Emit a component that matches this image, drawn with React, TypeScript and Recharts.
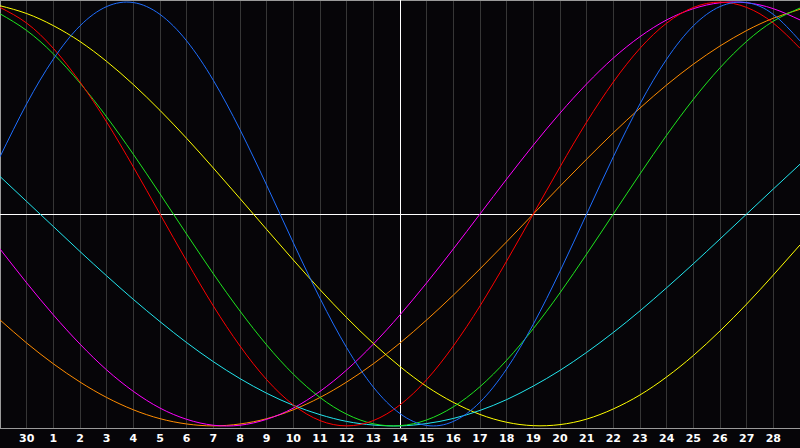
import { LineChart, Line, XAxis, YAxis, CartesianGrid, ReferenceLine } from 'recharts'

// ─── Data ─────────────────────────────────────────────────────────────────────

// grid position of each sample (one per day column)
const DAYS = [0, 1, 2, 3, 4, 5, 6, 7, 8, 9, 10, 11, 12, 13, 14, 15, 16, 17, 18, 19, 20, 21, 22, 23, 24, 25, 26, 27, 28, 29, 30]

const TICKS = [1, 2, 3, 4, 5, 6, 7, 8, 9, 10, 11, 12, 13, 14, 15, 16, 17, 18, 19, 20, 21, 22, 23, 24, 25, 26, 27, 28, 29]
const TICK_LABELS = ['30', '1', '2', '3', '4', '5', '6', '7', '8', '9', '10', '11', '12', '13', '14', '15', '16', '17', '18', '19', '20', '21', '22', '23', '24', '25', '26', '27', '28']

const PHYSICAL = [0.27, 0.52, 0.731, 0.888, 0.979, 0.998, 0.942, 0.817, 0.631, 0.398, 0.136, -0.136, -0.398, -0.631, -0.817, -0.942, -0.998, -0.979, -0.888, -0.731, -0.52, -0.27, 0, 0.27, 0.52, 0.731, 0.888, 0.979, 0.998, 0.942, 0.817]
const EMOTIONAL = [0.975, 0.901, 0.782, 0.623, 0.434, 0.222, 0, -0.222, -0.434, -0.623, -0.782, -0.901, -0.975, -1, -0.975, -0.901, -0.782, -0.623, -0.434, -0.222, 0, 0.222, 0.434, 0.623, 0.782, 0.901, 0.975, 1, 0.975, 0.901, 0.782]
const INTELLECTUAL = [0.945, 0.866, 0.756, 0.618, 0.458, 0.282, 0.095, -0.095, -0.282, -0.458, -0.618, -0.756, -0.866, -0.945, -0.99, -0.999, -0.972, -0.91, -0.815, -0.69, -0.541, -0.372, -0.189, 0, 0.189, 0.372, 0.541, 0.69, 0.815, 0.91, 0.972]
const INTUITIVE = [-0.165, -0.325, -0.476, -0.614, -0.736, -0.837, -0.916, -0.969, -0.997, -0.997, -0.969, -0.916, -0.837, -0.736, -0.614, -0.476, -0.325, -0.165, 0, 0.165, 0.325, 0.476, 0.614, 0.736, 0.837, 0.916, 0.969, 0.997, 0.997, 0.969, 0.916]
const AESTHETIC = [0.983, 0.946, 0.889, 0.814, 0.72, 0.611, 0.489, 0.357, 0.217, 0.073, -0.073, -0.217, -0.357, -0.489, -0.611, -0.72, -0.814, -0.889, -0.946, -0.983, -0.999, -0.994, -0.968, -0.92, -0.854, -0.769, -0.668, -0.552, -0.425, -0.288, -0.146]
const AWARENESS = [-0.5, -0.609, -0.707, -0.793, -0.866, -0.924, -0.966, -0.991, -1, -0.991, -0.966, -0.924, -0.866, -0.793, -0.707, -0.609, -0.5, -0.383, -0.259, -0.131, 0, 0.131, 0.259, 0.383, 0.5, 0.609, 0.707, 0.793, 0.866, 0.924, 0.966]
const SPIRITUAL = [0.177, 0.059, -0.059, -0.177, -0.292, -0.403, -0.508, -0.607, -0.697, -0.777, -0.846, -0.903, -0.947, -0.979, -0.996, -1, -0.989, -0.965, -0.927, -0.876, -0.812, -0.738, -0.653, -0.559, -0.457, -0.348, -0.235, -0.118, 0, 0.118, 0.235]

// ─── Series styling ───────────────────────────────────────────────────────────

const SERIES: { key: string; values: number[]; color: string }[] = [
  { key: 'awareness',    values: AWARENESS,    color: '#ff8c00' },
  { key: 'intuitive',    values: INTUITIVE,    color: '#ff00ff' },
  { key: 'aesthetic',    values: AESTHETIC,    color: '#ffff00' },
  { key: 'spiritual',    values: SPIRITUAL,    color: '#22e6ee' },
  { key: 'intellectual', values: INTELLECTUAL, color: '#1ee61e' },
  { key: 'emotional',    values: EMOTIONAL,    color: '#ff0000' },
  { key: 'physical',     values: PHYSICAL,     color: '#1e6eff' },
]

const chartData = DAYS.map((d, i) => ({
  day: d,
  ...Object.fromEntries(SERIES.map((s) => [s.key, s.values[i]])),
}))

const Y_LIMIT = 1.01

export default function App() {
  return (
    <div style={{ position: 'fixed', left: 0, top: 0, width: 800, height: 448, background: '#060508' }}>
      <LineChart width={800} height={448} data={chartData} margin={{ top: 0, right: 0, left: 0, bottom: 0 }}>
        <CartesianGrid horizontal={false} stroke="#363636" strokeWidth={1} shapeRendering="crispEdges" />
        <XAxis
          dataKey="day"
          type="number"
          domain={[0, 30]}
          ticks={TICKS}
          tickFormatter={(v: number) => TICK_LABELS[v - 1] ?? ''}
          interval={0}
          height={20}
          tickLine={false}
          tickSize={0}
          tickMargin={6}
          axisLine={{ stroke: '#9a9a9a', shapeRendering: 'crispEdges' }}
          tick={{ fill: '#ffffff', fontSize: 11, fontWeight: 700, fontFamily: 'DejaVu Sans' }}
        />
        <YAxis hide type="number" domain={[-Y_LIMIT, Y_LIMIT]} />

        <ReferenceLine x={0} stroke="#9a9a9a" strokeWidth={2} shapeRendering="crispEdges" />
        <ReferenceLine y={Y_LIMIT} stroke="#9a9a9a" strokeWidth={2} shapeRendering="crispEdges" />
        <ReferenceLine x={15} stroke="#ffffff" strokeWidth={1} shapeRendering="crispEdges" />
        <ReferenceLine y={0} stroke="#ffffff" strokeWidth={1} shapeRendering="crispEdges" />

        {SERIES.map((s) => (
          <Line
            key={s.key}
            dataKey={s.key}
            type="natural"
            stroke={s.color}
            strokeWidth={1}
            dot={false}
            activeDot={false}
            isAnimationActive={false}
          />
        ))}
      </LineChart>
    </div>
  )
}
